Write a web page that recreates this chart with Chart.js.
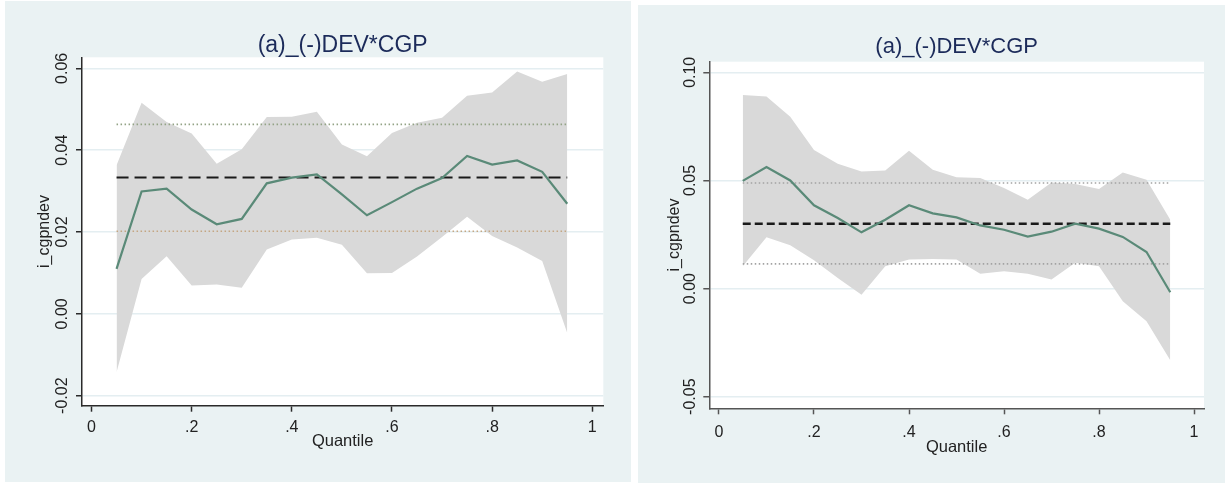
<!DOCTYPE html>
<html>
<head>
<meta charset="utf-8">
<script src="https://cdn.jsdelivr.net/npm/chart.js@4.4.1/dist/chart.umd.min.js"></script>
<style>
  html, body { margin: 0; padding: 0; background: #ffffff; }
  body { position: relative; width: 1225px; height: 483px; overflow: hidden; }
  canvas { position: absolute; background: #eaf2f3; }
  #leftChart { left: 5px; top: 1px; }
  #rightChart { left: 638px; top: 5px; }
</style>
</head>
<body>
<canvas id="leftChart" width="626" height="481"></canvas>
<canvas id="rightChart" width="587" height="478"></canvas>
<script>
const quantiles = [0.05, 0.10, 0.15, 0.20, 0.25, 0.30, 0.35, 0.40, 0.45, 0.50,
                   0.55, 0.60, 0.65, 0.70, 0.75, 0.80, 0.85, 0.90, 0.95];
const xTicks = [0, 0.2, 0.4, 0.6, 0.8, 1];
const xTickText = ['0', '.2', '.4', '.6', '.8', '1'];
const titleText = '(a)_(-)DEV*CGP';
const yTitleText = 'i_cgpndev';
const xTitleText = 'Quantile';

// panneau gauche
const leftCoef  = [0.0110, 0.0299, 0.0306, 0.0255, 0.0219, 0.0232, 0.0319, 0.0333, 0.0341, 0.0292,
                   0.0241, 0.0273, 0.0306, 0.0332, 0.0386, 0.0365, 0.0375, 0.0347, 0.0269];
const leftUpper = [0.0363, 0.0516, 0.0469, 0.0441, 0.0367, 0.0402, 0.0481, 0.0482, 0.0494, 0.0414,
                   0.0385, 0.0442, 0.0467, 0.0479, 0.0533, 0.0541, 0.0592, 0.0567, 0.0586];
const leftLower = [-0.0143, 0.0085, 0.0141, 0.0069, 0.0072, 0.0064, 0.0157, 0.0182, 0.0186, 0.0169,
                   0.0099, 0.0100, 0.0140, 0.0188, 0.0237, 0.0190, 0.0162, 0.0129, -0.0047];
const leftOls = [0.0202, 0.0333, 0.0463];   // bas, estimation, haut
const leftYTicks = [-0.02, 0, 0.02, 0.04, 0.06];

// panneau droit
const rightCoef  = [0.0498, 0.0562, 0.0500, 0.0385, 0.0326, 0.0260, 0.0318, 0.0385, 0.0348, 0.0329,
                    0.0292, 0.0272, 0.0240, 0.0263, 0.0300, 0.0277, 0.0239, 0.0169, -0.0017];
const rightUpper = [0.0895, 0.0888, 0.0795, 0.0641, 0.0577, 0.0541, 0.0546, 0.0637, 0.0549, 0.0515,
                    0.0511, 0.0465, 0.0411, 0.0491, 0.0483, 0.0460, 0.0537, 0.0503, 0.0318];
const rightLower = [0.0103, 0.0237, 0.0200, 0.0131, 0.0049, -0.0028, 0.0103, 0.0134, 0.0137, 0.0134,
                    0.0068, 0.0080, 0.0069, 0.0042, 0.0119, 0.0103, -0.0059, -0.0151, -0.0331];
const rightOls = [0.0114, 0.0300, 0.0488];
const rightYTicks = [-0.05, 0, 0.05, 0.10];

const FONT = "'Liberation Sans', Arial, sans-serif";

function pts(values) {
    return quantiles.map((q, i) => ({ x: q, y: values[i] }));
}
function flat(v) {
    return [{ x: quantiles[0], y: v }, { x: quantiles[quantiles.length - 1], y: v }];
}

// fond blanc de la zone de tracé + textes tournés (titre, étiquettes y)
const stataText = {
    id: 'stataText',
    beforeDraw(chart) {
        const { ctx, chartArea: a } = chart;
        ctx.save();
        ctx.fillStyle = '#ffffff';
        ctx.fillRect(a.left, a.top, a.right - a.left, a.bottom - a.top);
        ctx.restore();
    },
    afterDraw(chart, args, opts) {
        const { ctx, chartArea: a } = chart;
        const y = chart.scales.y;
        ctx.save();
        ctx.fillStyle = '#1c2b5a';
        ctx.font = `${opts.titleSize}px ${FONT}`;
        ctx.textAlign = 'center';
        ctx.textBaseline = 'alphabetic';
        ctx.fillText(titleText, (a.left + a.right) / 2, opts.titleY);

        ctx.fillStyle = '#222222';
        ctx.font = `16px ${FONT}`;
        ctx.textBaseline = 'middle';
        y.ticks.forEach(t => {
            const py = y.getPixelForValue(t.value);
            ctx.save();
            ctx.translate(a.left - opts.tickGap, py);
            ctx.rotate(-Math.PI / 2);
            ctx.fillText(t.value.toFixed(2), 0, 0);
            ctx.restore();
        });
        ctx.save();
        ctx.translate(opts.yTitleX, (a.top + a.bottom) / 2);
        ctx.rotate(-Math.PI / 2);
        ctx.fillText(yTitleText, 0, 0);
        ctx.restore();
        ctx.restore();
    }
};

function makePanel(canvasId, p) {
    return new Chart(document.getElementById(canvasId).getContext('2d'), {
        type: 'line',
        data: {
            datasets: [
                {
                    data: pts(p.coef), borderColor: '#5a8a78', borderWidth: 2.2,
                    pointRadius: 0, tension: 0, fill: false, order: 0
                },
                {
                    data: flat(p.ols[1]), borderColor: '#1a1a1a', borderWidth: p.dashWidth,
                    borderDash: p.dash, pointRadius: 0, fill: false, order: 1
                },
                {
                    data: flat(p.ols[2]), borderColor: p.dotHi, borderWidth: 1.6,
                    borderDash: [1.5, 2.5], pointRadius: 0, fill: false, order: 2
                },
                {
                    data: flat(p.ols[0]), borderColor: p.dotLo, borderWidth: 1.6,
                    borderDash: [1.5, 2.5], pointRadius: 0, fill: false, order: 3
                },
                {
                    data: pts(p.upper), borderWidth: 0, borderColor: 'rgba(0,0,0,0)',
                    backgroundColor: '#d9d9d9', pointRadius: 0, tension: 0,
                    fill: '+1', order: 5
                },
                {
                    data: pts(p.lower), borderWidth: 0, borderColor: 'rgba(0,0,0,0)',
                    pointRadius: 0, tension: 0, fill: false, order: 4
                }
            ]
        },
        options: {
            responsive: false,
            animation: false,
            devicePixelRatio: 1,
            layout: { padding: { left: 0, top: p.padTop, right: p.padRight, bottom: 0 } },
            plugins: {
                legend: { display: false },
                tooltip: { enabled: false },
                stataText: { titleY: p.titleY, titleSize: p.titleSize, tickGap: p.tickGap, yTitleX: p.yTitleX }
            },
            scales: {
                x: {
                    type: 'linear',
                    min: p.xMin, max: p.xMax,
                    afterBuildTicks: s => { s.ticks = xTicks.map(v => ({ value: v })); },
                    afterFit: s => { s.height = p.xHeight; },
                    border: { display: true, color: p.axisColor, width: 1.5 },
                    grid: { display: true, drawOnChartArea: false, drawTicks: true,
                            tickLength: 6, tickColor: p.axisColor, tickWidth: 1.5 },
                    ticks: {
                        autoSkip: false, maxRotation: 0, padding: p.xTickPad,
                        color: '#222222', font: { family: FONT, size: 16 },
                        callback: v => xTickText[xTicks.indexOf(v)]
                    },
                    title: {
                        display: true, text: xTitleText, color: '#222222',
                        font: { family: FONT, size: 16.5 }, padding: { top: 0, bottom: p.xTitlePad }
                    }
                },
                y: {
                    type: 'linear',
                    min: p.yMin, max: p.yMax,
                    afterBuildTicks: s => { s.ticks = p.yTicks.map(v => ({ value: v })); },
                    afterFit: s => { s.width = p.yWidth; },
                    border: { display: true, color: p.axisColor, width: 1.5 },
                    grid: { display: true, drawOnChartArea: true, color: '#e4eef1', lineWidth: 1.5,
                            drawTicks: true, tickLength: 6, tickColor: p.axisColor, tickWidth: 1.5 },
                    ticks: { display: false }
                }
            }
        },
        plugins: [stataText]
    });
}

makePanel('leftChart', {
    coef: leftCoef, upper: leftUpper, lower: leftLower, ols: leftOls, yTicks: leftYTicks,
    xMin: -0.019, xMax: 1.022, yMin: -0.02245, yMax: 0.0627,
    padTop: 56.3, padRight: 27.7, yWidth: 77, xHeight: 76.3,
    xTickPad: 6, xTitlePad: 31, titleY: 50.7, titleSize: 23,
    tickGap: 19.5, yTitleX: 40, axisColor: '#2a2a2a',
    dash: [12, 6], dashWidth: 2, dotHi: '#93a386', dotLo: '#c4a682'
});

makePanel('rightChart', {
    coef: rightCoef, upper: rightUpper, lower: rightLower, ols: rightOls, yTicks: rightYTicks,
    xMin: -0.0204, xMax: 1.021, yMin: -0.05536, yMax: 0.1049,
    padTop: 56.7, padRight: 21, yWidth: 71.3, xHeight: 74.7,
    xTickPad: 9, xTitlePad: 26, titleY: 48.3, titleSize: 22,
    tickGap: 18.3, yTitleX: 36.5, axisColor: '#555555',
    dash: [8, 4], dashWidth: 2.6, dotHi: '#a3a3a3', dotLo: '#a3a3a3'
});
</script>
</body>
</html>
